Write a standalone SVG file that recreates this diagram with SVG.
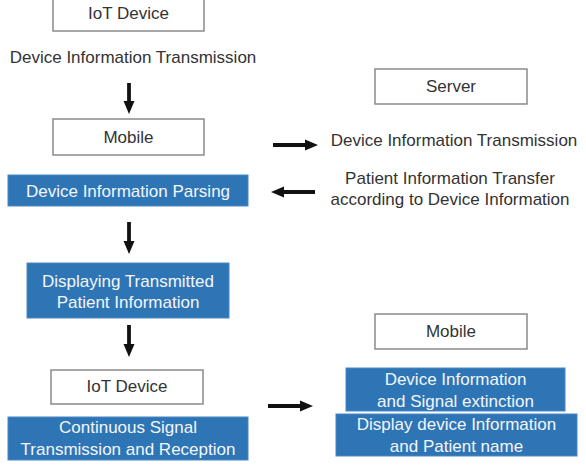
<svg xmlns="http://www.w3.org/2000/svg" width="586" height="471" viewBox="0 0 586 471">
<style>
  text { font-family: "Liberation Sans", Arial, sans-serif; font-size: 17px; text-anchor: middle; }
  .dark { fill: #333333; }
  .light { fill: #f4f6fa; }
  .wbox { fill: #ffffff; stroke: #8a8a8a; stroke-width: 1.5; }
  .bbox { fill: #2e75b6; stroke: #4a88c4; stroke-width: 1; }
  .arrow { stroke: #111111; stroke-width: 3.8; fill: none; marker-end: url(#head); }
</style>
<defs>
  <marker id="head" markerUnits="userSpaceOnUse" markerWidth="13" markerHeight="12" refX="4" refY="6" orient="auto">
    <path d="M0,0.5 L13,6 L0,11.5 z" fill="#111111"/>
  </marker>
</defs>
<rect width="586" height="471" fill="#ffffff"/>

<g id="iot-device-1">
  <rect class="wbox" x="53" y="-1" width="151" height="32"/>
  <text class="dark" x="128.5" y="19">IoT Device</text>
</g>
<g id="label-transmission-1">
  <text class="dark" x="133" y="63">Device Information Transmission</text>
</g>
<g id="mobile-1">
  <rect class="wbox" x="53" y="119" width="151" height="36"/>
  <text class="dark" x="128.5" y="143">Mobile</text>
</g>
<g id="parsing">
  <rect class="bbox" x="8" y="175" width="240" height="31"/>
  <text class="light" x="128" y="197">Device Information Parsing</text>
</g>
<g id="displaying">
  <rect class="bbox" x="27" y="263" width="202" height="55"/>
  <text class="light" x="128" y="287">Displaying Transmitted</text>
  <text class="light" x="128" y="308">Patient Information</text>
</g>
<g id="iot-device-2">
  <rect class="wbox" x="51" y="370" width="152" height="34"/>
  <text class="dark" x="127" y="392">IoT Device</text>
</g>
<g id="continuous">
  <rect class="bbox" x="8" y="417" width="240" height="43"/>
  <text class="light" x="128" y="433">Continuous Signal</text>
  <text class="light" x="128" y="455">Transmission and Reception</text>
</g>

<g id="server">
  <rect class="wbox" x="375" y="69" width="152" height="35"/>
  <text class="dark" x="451" y="92">Server</text>
</g>
<g id="label-transmission-2">
  <text class="dark" x="454" y="146">Device Information Transmission</text>
</g>
<g id="label-patient-transfer">
  <text class="dark" x="450" y="184">Patient Information Transfer</text>
  <text class="dark" x="450" y="205">according to Device Information</text>
</g>
<g id="mobile-2">
  <rect class="wbox" x="375" y="314" width="152" height="35"/>
  <text class="dark" x="451" y="337">Mobile</text>
</g>
<g id="extinction">
  <rect class="bbox" x="346" y="368" width="219" height="43"/>
  <text class="light" x="455.5" y="385">Device Information</text>
  <text class="light" x="455.5" y="407">and Signal extinction</text>
</g>
<g id="display-name">
  <rect class="bbox" x="336" y="414" width="241" height="42"/>
  <text class="light" x="456.5" y="430">Display device Information</text>
  <text class="light" x="456.5" y="452">and Patient name</text>
</g>

<g id="connectors">
  <line class="arrow" x1="129" y1="83" x2="129" y2="105"/>
  <line class="arrow" x1="129" y1="222" x2="129" y2="245"/>
  <line class="arrow" x1="129" y1="325" x2="129" y2="348"/>
  <line class="arrow" x1="273" y1="145" x2="309" y2="145"/>
  <line class="arrow" x1="315" y1="192" x2="280" y2="192"/>
  <line class="arrow" x1="268" y1="406" x2="304" y2="406"/>
</g>
</svg>
